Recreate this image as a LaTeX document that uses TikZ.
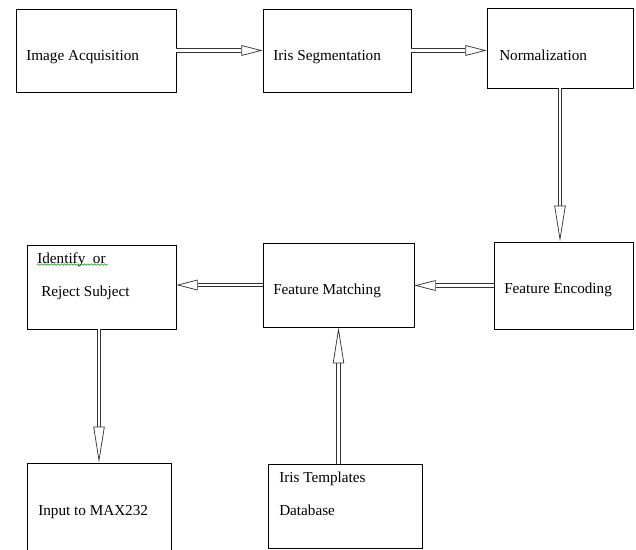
\documentclass[tikz,border=0pt]{standalone}
\usepackage{fontspec}
\setmainfont{Liberation Serif}
\usetikzlibrary{arrows.meta,decorations.pathmorphing}

\begin{document}
\begin{tikzpicture}[
x=0.75pt,y=-0.75pt,
block/.style={
draw,
fill=white,
rectangle,
line width=0.6pt,
minimum width=112pt,
minimum height=63pt},
txt/.style={
anchor=base west,
inner sep=0pt,
font=\fontsize{11.4}{13.7}\selectfont},
flow/.style={
draw=black!80,
line width=0.55pt,
double,
double distance=2pt,
-{Triangle[open,length=16pt,width=8pt]}},
longflow/.style={
flow,
-{Triangle[open,length=27pt,width=8.5pt]}}
]

\useasboundingbox (0,0) rectangle (636,550);

% boxes
\draw (96,50.5)node[block,minimum width=120pt,minimum height=62.25pt](acq){};
\draw (337,50.5)node[block,minimum width=111pt,minimum height=62.25pt](seg){};
\draw (560,48)node[block,minimum width=109.5pt,minimum height=60pt](norm){};
\draw (563.5,285.5)node[block,minimum width=104.25pt,minimum height=65.25pt](enc){};
\draw (338.5,285)node[block,minimum width=113.25pt](match){};
\draw (101.5,287)node[block,minimum width=111.75pt](ident){};
\draw (99,508)node[block,minimum width=108pt,minimum height=67.5pt](max){};
\draw (345,506)node[block,minimum width=115.5pt](db){};

% texts
\draw (26,60)node[txt](acqtxt){Image Acquisition};
\draw (273,60)node[txt](segtxt){Iris Segmentation};
\draw (499,60)node[txt](normtxt){Normalization};
\draw (504,293)node[txt](enctxt){Feature Encoding};
\draw (273,294)node[txt](matchtxt){Feature Matching};
\draw (37,263)node[txt](identtxt){Identify~ or};
\draw (41,296)node[txt](rejecttxt){Reject Subject};
\draw (38,515)node[txt](maxtxt){Input to MAX232};
\draw (279,482)node[txt](dbtxt){Iris Templates};
\draw (279,515)node[txt](dbtxtb){Database};

% spell check line
\draw[green!60!black,line width=0.4pt,decorate,
decoration={snake,amplitude=0.6pt,segment length=2.5pt}]
(identtxt.south west)++(0,-2) -- ++(71,0);

% arrows
\draw[flow] (acq.east) -- (seg.west);
\draw[flow] (seg.east) -- (seg.east -| norm.west);
\draw[longflow] (norm.south) -- (norm.south |- enc.north);
\draw[flow] (enc.west) -- (enc.west -| match.east);
\draw[flow] (match.west) -- (match.west -| ident.east);
\draw[longflow] (max.north |- ident.south) -- (max.north);
\draw[longflow] (db.north -| match.south) -- (match.south);

\end{tikzpicture}
\end{document}
